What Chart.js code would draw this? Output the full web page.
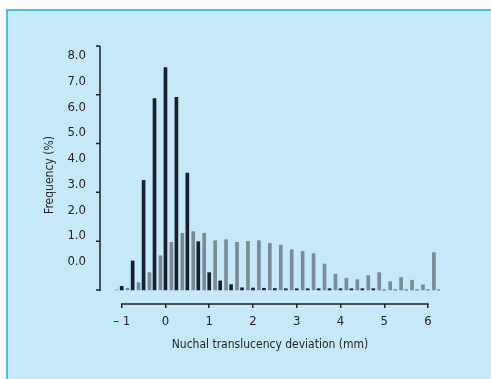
<!DOCTYPE html>
<html>
<head>
<meta charset="utf-8">
<script src="https://cdn.jsdelivr.net/npm/chart.js@4.4.1/dist/chart.umd.min.js"></script>
<style>
  html, body { margin: 0; padding: 0; background: #fff; overflow: hidden; }
  #wrap { position: relative; width: 491px; height: 379px; overflow: hidden; }
  #panel { position: absolute; left: 6px; top: 9px; right: -20px; bottom: -20px;
           background: #c6e9f9; border-left: 2px solid #45c3ee; border-top: 2px solid #45c3ee; }
  #chart { position: absolute; left: 0; top: 0; }
</style>
</head>
<body>
<div id="wrap">
  <div id="panel"></div>
  <canvas id="chart" width="491" height="379"></canvas>
</div>
<script>
// ----------------------------------------------------------------------
//  data (frequency %, per 0.25 mm bin)
// ----------------------------------------------------------------------
var bins = [-1, -0.75, -0.5, -0.25, 0, 0.25, 0.5, 0.75, 1, 1.25, 1.5, 1.75, 2, 2.25, 2.5,
            2.75, 3, 3.25, 3.5, 3.75, 4, 4.25, 4.5, 4.75, 5, 5.25, 5.5, 5.75, 6, 6.25];
var normal = [0.15, 1.19, 4.49, 7.84, 9.12, 7.90, 4.79, 1.98, 0.71, 0.37, 0.22, 0.09, 0.08, 0.07, 0.06,
              0.05, 0.05, 0.05, 0.05, 0.05, 0.05, 0.05, 0.05, 0.05, 0, 0, 0, 0, 0, 0];
var trisomy = [0, 0.07, 0.30, 0.71, 1.40, 1.95, 2.32, 2.39, 2.32, 2.02, 2.06, 1.95, 1.99, 2.02, 1.91,
               1.84, 1.65, 1.58, 1.49, 1.06, 0.65, 0.48, 0.42, 0.59, 0.71, 0.34, 0.51, 0.40, 0.21, 1.53];
var xTicks = [-1, 0, 1, 2, 3, 4, 5, 6];
var yTicks = [0, 2, 4, 6, 8, 10];
var yLabels = [0, 1, 2, 3, 4, 5, 6, 7, 8];

var FONT = "'DejaVu Sans Condensed', 'Liberation Sans Narrow', sans-serif";
var INK = '#231f20';

var xMin = -1.496, xMax = 6.274, greyShift = 0.115;

// axis lines + y tick marks
var axisLines = {
	id: 'axisLines',
	afterDraw: function(chart){
		var c = chart.ctx, x = chart.scales.x, y = chart.scales.y, a = chart.chartArea;
		c.save();
		c.strokeStyle = INK;
		c.lineWidth = 1.5;
		c.beginPath();
		c.moveTo(a.left, y.getPixelForValue(0) + 1);
		c.lineTo(a.left, y.getPixelForValue(10));
		yTicks.forEach(function(v){
			var p = y.getPixelForValue(v);
			c.moveTo(a.left - 4, p);
			c.lineTo(a.left, p);
		});
		c.moveTo(x.getPixelForValue(xTicks[0]) - 0.75, a.bottom);
		c.lineTo(x.getPixelForValue(xTicks[xTicks.length - 1]) + 0.75, a.bottom);
		c.stroke();
		c.restore();
	}
};

window.onload = function(){
	var ctx = document.getElementById('chart').getContext('2d');
	new Chart(ctx, {
		type: 'bar',
		data: {
			datasets: [
				{
					label: 'Trisomy 21',
					data: bins.map(function(b, i){ return {x: b, y: trisomy[i]}; }),
					backgroundColor: '#7b8a93',
					barThickness: 3,
					xAxisID: 'xg',
					yAxisID: 'y'
				},
				{
					label: 'Normal',
					data: bins.map(function(b, i){ return {x: b, y: normal[i]}; }),
					backgroundColor: '#17212a',
					barThickness: 3,
					xAxisID: 'x',
					yAxisID: 'y'
				}
			]
		},
		options: {
			responsive: false,
			animation: false,
			grouped: false,
			layout: { padding: { left: 42, right: 51, top: 46, bottom: 27 } },
			plugins: { legend: { display: false }, tooltip: { enabled: false } },
			scales: {
				x: {
					type: 'linear',
					position: 'bottom',
					offset: false,
					min: xMin, max: xMax,
					afterBuildTicks: function(s){ s.ticks = xTicks.map(function(v){ return {value: v}; }); },
					grid: { offset: false, drawOnChartArea: false, drawTicks: true, tickLength: 4, color: INK, lineWidth: 1.5 },
					border: { display: false },
					ticks: {
						padding: 6, color: INK, font: { family: FONT, size: 13 },
						callback: function(v){ return v < 0 ? '\u2013 ' + Math.abs(v) : String(v); }
					},
					title: {
						display: true, text: 'Nuchal translucency deviation (mm)', color: INK,
						font: { family: FONT, size: 12 }, padding: { top: 2, bottom: 0 }
					}
				},
				xg: {
					type: 'linear',
					display: false,
					offset: false,
					min: xMin + greyShift, max: xMax + greyShift
				},
				y: {
					type: 'linear',
					display: false,
					min: -0.576, max: 10
				},
				yl: {
					type: 'linear',
					position: 'left',
					min: -1.637, max: 8.378,
					afterBuildTicks: function(s){ s.ticks = yLabels.map(function(v){ return {value: v}; }); },
					afterFit: function(s){ s.width = 58; },
					grid: { display: false, drawTicks: false },
					border: { display: false },
					ticks: {
						padding: 14, color: INK, font: { family: FONT, size: 13 },
						callback: function(v){ return Number(v).toFixed(1); }
					},
					title: {
						display: true, text: 'Frequency (%)', color: INK,
						font: { family: FONT, size: 12 }, padding: { top: 1, bottom: 0 }
					}
				}
			}
		},
		plugins: [axisLines]
	});
};
</script>
</body>
</html>
